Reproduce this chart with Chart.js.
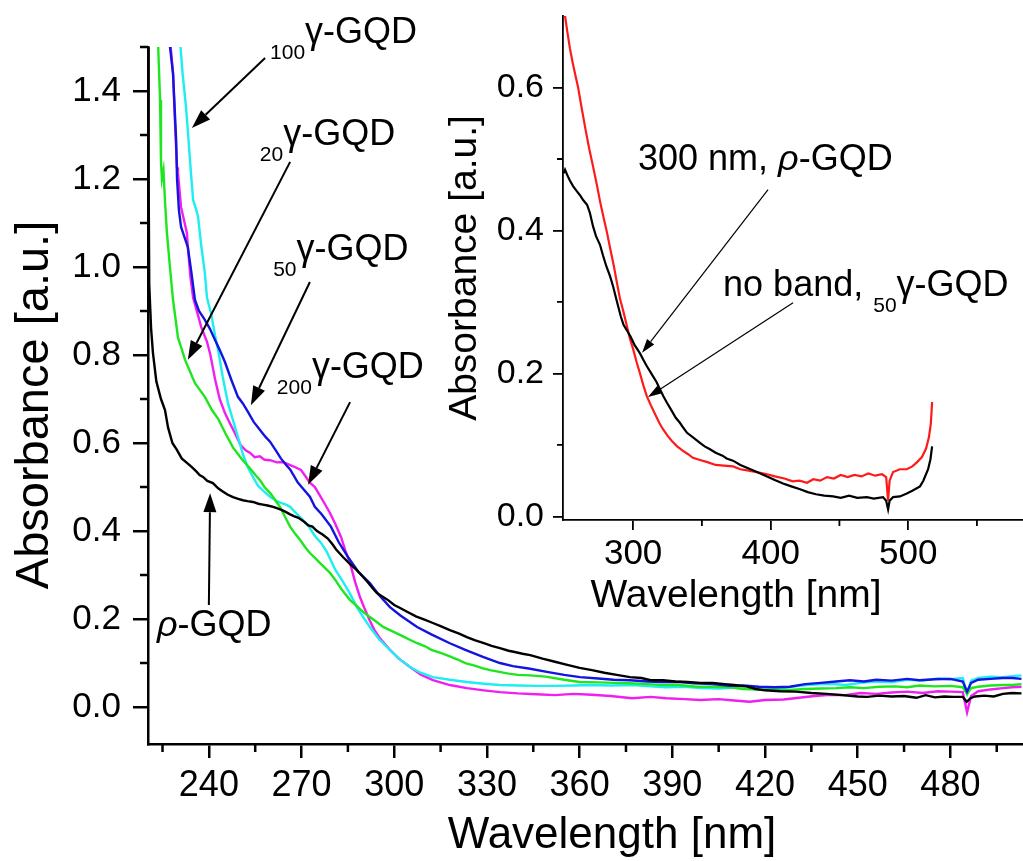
<!DOCTYPE html>
<html>
<head>
<meta charset="utf-8">
<script src="https://cdn.jsdelivr.net/npm/chart.js@4.4.1/dist/chart.umd.min.js"></script>
<style>
  html, body { margin: 0; padding: 0; background: #fff; overflow: hidden; }
  #wrap { position: relative; width: 1023px; height: 861px; }
  #wrap canvas { position: absolute; left: 0; top: 0; }
</style>
</head>
<body>
<div id="wrap">
  <canvas id="main" width="1023" height="861"></canvas>
  <canvas id="inset" width="1023" height="861"></canvas>
</div>
<script>
// UV-vis absorbance spectra, [wavelength nm, absorbance a.u.]
const pGQD = [[220.3,1.52],[220.5,1.2],[220.7,0.96],[221.3,0.86],[221.9,0.805],[223,0.74],[224.5,0.70],[225.8,0.675],[226.8,0.635],[228.2,0.60],[229.7,0.584],[231.2,0.565],[232.9,0.555],[234.5,0.545],[236,0.535],[237,0.527],[238.1,0.523],[239.5,0.514],[241.3,0.509],[243,0.497],[244.5,0.49],[246,0.483],[247.8,0.477],[249.5,0.473],[251,0.47],[252.5,0.468],[254.3,0.466],[256,0.462],[257.5,0.46],[259,0.458],[260.8,0.455],[262,0.452],[263.5,0.448],[265,0.443],[266.3,0.438],[267.5,0.434],[269,0.43],[270.5,0.423],[272.2,0.413],[273.5,0.41],[275,0.40],[276.8,0.392],[278.5,0.383],[280,0.37],[281.2,0.358],[283.4,0.341],[285.7,0.325],[287.9,0.311],[290,0.295],[291.5,0.283],[293,0.27],[294.4,0.259],[296,0.252],[298,0.243],[300,0.232],[301.9,0.225],[304,0.217],[307,0.206],[310,0.198],[312.5,0.191],[315,0.184],[318,0.175],[321,0.167],[323.5,0.159],[326,0.152],[329,0.145],[331.5,0.139],[334.2,0.134],[337,0.128],[339,0.125],[341.5,0.121],[344,0.118],[348,0.11],[352,0.103],[356,0.096],[360,0.089],[364,0.084],[368,0.078],[372,0.073],[376.3,0.068],[380,0.066],[383,0.061],[387,0.061],[391,0.058],[395,0.057],[399,0.055],[403,0.055],[407,0.052],[410,0.05],[414,0.047],[417,0.041],[420,0.038],[425,0.036],[430,0.035],[435,0.032],[440,0.03],[445,0.027],[450,0.024],[453,0.023],[457,0.026],[461,0.024],[465,0.025],[469,0.021],[472,0.027],[475,0.022],[478,0.024],[481,0.023],[484,0.023],[485.3,0.012],[486.5,0.02],[488,0.024],[491,0.026],[494,0.024],[497,0.03],[500,0.032],[503,0.031]];

const gGQD20 = [[223.5,1.52],[224.2,1.38],[224.5,1.24],[224.8,1.2],[225.3,1.22],[225.8,1.15],[226.4,1.08],[227.4,1.0],[228.4,0.925],[230,0.84],[232.3,0.789],[235.5,0.736],[238.7,0.705],[241,0.675],[243,0.655],[245.5,0.62],[247.8,0.59],[250.5,0.565],[253,0.545],[255,0.528],[256.5,0.516],[258,0.5],[260,0.485],[261.5,0.47],[263,0.455],[264.8,0.43],[266.3,0.41],[268,0.393],[269.5,0.38],[271,0.365],[272.7,0.35],[274.5,0.338],[276,0.327],[277.5,0.317],[279.2,0.305],[280.8,0.29],[282.4,0.273],[284,0.258],[285.7,0.243],[287.5,0.232],[289,0.222],[290.5,0.213],[292,0.205],[294,0.195],[296.4,0.182],[298.6,0.175],[301,0.167],[303,0.16],[305,0.153],[307.4,0.145],[310,0.138],[312,0.13],[315,0.123],[318,0.115],[320.5,0.108],[323,0.1],[326,0.094],[328.7,0.088],[331,0.084],[334,0.08],[337,0.076],[340,0.073],[344,0.072],[349,0.069],[355,0.062],[360,0.057],[366,0.056],[371,0.055],[376,0.054],[382,0.052],[387,0.05],[392,0.05],[398,0.046],[403,0.046],[408.6,0.045],[413,0.041],[418,0.04],[423,0.039],[428,0.039],[433,0.041],[438,0.042],[443,0.043],[447.5,0.045],[452,0.043],[457,0.046],[462,0.047],[466,0.045],[470,0.049],[475,0.047],[480,0.048],[484,0.045],[485.4,0.03],[486.7,0.043],[489,0.046],[493,0.049],[497,0.05],[500,0.05],[503,0.052]];

const gGQD50 = [[227.1,1.52],[228.4,1.44],[229.4,1.29],[229.7,1.2],[230.3,1.13],[231,1.091],[232,1.07],[233.2,1.045],[234.3,0.99],[235.5,0.925],[236.8,0.9],[238.7,0.88],[240.3,0.86],[242,0.834],[243.6,0.81],[245.2,0.784],[247.2,0.745],[249.4,0.705],[251,0.69],[252.7,0.67],[254.5,0.648],[256.3,0.632],[258.2,0.615],[259.8,0.603],[261.5,0.585],[263.3,0.565],[265,0.55],[266.3,0.54],[268.8,0.51],[270.5,0.496],[272.7,0.478],[274.3,0.455],[276.5,0.438],[279.5,0.41],[282,0.375],[285.3,0.338],[288.3,0.308],[292.1,0.282],[295,0.255],[298.6,0.227],[302,0.208],[307.4,0.182],[312,0.165],[318,0.145],[323,0.13],[328.7,0.114],[334.2,0.1],[338.4,0.093],[344,0.087],[349.4,0.080],[355,0.073],[360.1,0.068],[366,0.065],[371,0.062],[376.3,0.061],[382,0.058],[387,0.057],[392.5,0.057],[397,0.054],[403,0.052],[408.6,0.048],[413,0.049],[418,0.046],[423,0.045],[428,0.046],[433,0.052],[438,0.055],[443,0.058],[447.5,0.061],[452,0.058],[456,0.062],[461,0.06],[466,0.064],[470,0.061],[475,0.063],[480,0.064],[484,0.058],[485.4,0.035],[486.7,0.055],[489,0.062],[493,0.064],[497,0.066],[500,0.066],[503,0.064]];

const gGQD100 = [[230.6,1.52],[231.5,1.44],[232.6,1.364],[233.4,1.29],[234.2,1.214],[234.9,1.152],[235.7,1.135],[236.5,1.115],[237.5,1.05],[238.7,0.986],[239.4,0.93],[240.7,0.895],[242,0.845],[243,0.811],[244.5,0.75],[246.2,0.69],[247.8,0.652],[249.4,0.614],[251,0.575],[252.7,0.543],[254.5,0.52],[255.9,0.503],[257.8,0.49],[259.8,0.478],[261.5,0.47],[263.3,0.464],[265,0.46],[266.3,0.455],[267.9,0.443],[270,0.428],[272.1,0.413],[274.2,0.39],[276.3,0.373],[278,0.355],[279.5,0.333],[281,0.311],[283.4,0.285],[285.5,0.26],[287.9,0.227],[290,0.204],[292.1,0.182],[295,0.155],[298.6,0.13],[301.5,0.11],[305.1,0.091],[308.5,0.078],[312.5,0.068],[318,0.062],[323.5,0.057],[329,0.053],[334.2,0.05],[340,0.049],[346,0.048],[352,0.048],[358,0.049],[364,0.05],[370,0.049],[377,0.05],[383,0.047],[388,0.045],[394,0.046],[399,0.043],[405,0.042],[410,0.044],[415,0.041],[420,0.045],[426,0.043],[431,0.048],[436,0.051],[441,0.053],[446,0.05],[451,0.055],[456,0.058],[461,0.056],[466,0.062],[471,0.06],[476,0.065],[480,0.063],[484,0.066],[485.4,0.03],[486.7,0.06],[489,0.066],[493,0.069],[497,0.068],[500,0.07],[503,0.072]];

const gGQD200 = [[227.4,1.52],[228.4,1.44],[229.2,1.3],[229.7,1.227],[230,1.214],[231,1.136],[232.9,1.077],[233.2,1.045],[234,0.98],[234.9,0.93],[235.5,0.915],[236.5,0.89],[237.5,0.864],[239.4,0.83],[240.5,0.8],[242,0.745],[243.5,0.7],[245.2,0.668],[246.8,0.645],[248.4,0.623],[250.3,0.595],[252,0.583],[253.3,0.578],[254.8,0.568],[256.5,0.57],[258,0.562],[259.8,0.561],[262,0.556],[264,0.557],[266.3,0.55],[268,0.545],[269.8,0.539],[271.2,0.525],[272.7,0.51],[274.3,0.5],[276,0.48],[277.5,0.462],[279.2,0.441],[281,0.415],[282.8,0.386],[284.2,0.355],[285.7,0.327],[287.3,0.285],[288.9,0.25],[290.5,0.222],[292,0.198],[293.5,0.176],[295.5,0.155],[298.6,0.13],[301.5,0.11],[305.1,0.091],[308.5,0.074],[312.5,0.061],[318,0.05],[323.5,0.043],[329,0.038],[334.2,0.034],[340,0.031],[346,0.029],[352,0.027],[358,0.03],[364,0.028],[370,0.025],[377,0.02],[383,0.023],[388,0.02],[394,0.018],[399,0.016],[405,0.018],[410,0.015],[415,0.012],[420,0.016],[426,0.017],[431,0.021],[436,0.025],[441,0.028],[446,0.027],[451,0.032],[456,0.03],[461,0.033],[466,0.035],[471,0.032],[476,0.036],[480,0.035],[484,0.034],[485.4,-0.012],[486.7,0.025],[489,0.036],[493,0.04],[497,0.043],[500,0.045],[503,0.046]];

// inset: p-GQD against 50γ-GQD over a wider range
const insetP = [[249.5,0.48],[250.5,0.485],[252,0.478],[254,0.47],[256.3,0.462],[259,0.455],[261.5,0.449],[263.5,0.443],[266.5,0.436],[268.5,0.425],[270.8,0.406],[273,0.392],[275.9,0.38],[278.1,0.365],[280.5,0.35],[283.2,0.336],[285.4,0.322],[288.3,0.30],[291,0.28],[293,0.268],[295.5,0.26],[298,0.252],[301,0.24],[305,0.228],[307.2,0.22],[310,0.21],[314.5,0.196],[317,0.188],[319.5,0.178],[322,0.168],[324.6,0.159],[328,0.148],[331,0.138],[334,0.131],[336.5,0.124],[339.2,0.117],[344,0.11],[348.6,0.103],[352,0.098],[355.9,0.094],[360,0.089],[365,0.085],[368,0.081],[372.6,0.078],[378,0.072],[384,0.067],[390,0.062],[397.4,0.056],[403,0.051],[409,0.046],[415,0.042],[421.4,0.038],[427,0.034],[433,0.031],[439,0.029],[445.4,0.028],[451,0.026],[457,0.029],[463,0.026],[470,0.027],[475,0.025],[481.7,0.027],[484,0.022],[485.4,0.01],[486.5,0.022],[489,0.027],[494,0.028],[499,0.032],[503,0.036],[508.6,0.042],[511,0.05],[514.5,0.066],[516.2,0.08],[517.4,0.098]];

const insetG50 = [[249,0.72],[250.5,0.70],[252,0.68],[254,0.655],[256,0.635],[258,0.617],[260,0.60],[262.5,0.572],[265.5,0.54],[268,0.515],[270.8,0.49],[273.5,0.465],[276,0.44],[278.5,0.418],[281,0.397],[283.5,0.373],[286,0.35],[288.3,0.326],[290.5,0.304],[293,0.286],[295,0.27],[297.5,0.25],[300,0.234],[302.5,0.216],[305,0.2],[307.5,0.183],[310,0.168],[313,0.155],[316,0.143],[319,0.131],[321.7,0.122],[325,0.113],[328,0.106],[332,0.098],[336,0.092],[340,0.087],[343.5,0.082],[348.6,0.079],[354,0.076],[360,0.072],[366,0.071],[372.6,0.07],[378,0.066],[384,0.064],[390,0.062],[397.4,0.059],[403,0.056],[410,0.053],[416,0.049],[421,0.05],[426.5,0.047],[431,0.052],[436,0.05],[441,0.055],[446,0.053],[451,0.058],[456,0.055],[461,0.058],[466,0.056],[471,0.06],[476,0.057],[481,0.059],[484,0.055],[485.4,0.022],[486.5,0.05],[489,0.062],[494,0.066],[499,0.066],[503,0.07],[506.5,0.076],[510,0.083],[513,0.095],[515,0.11],[516.5,0.13],[517.4,0.16]];

const mainXTicks = [240, 270, 300, 330, 360, 390, 420, 450, 480];
const mainXMinor = [225, 255, 285, 315, 345, 375, 405, 435, 465, 495];
const mainYTicks = [0, 0.2, 0.4, 0.6, 0.8, 1.0, 1.2, 1.4];
const mainYMinor = [0.1, 0.3, 0.5, 0.7, 0.9, 1.1, 1.3, 1.5];
const insetXTicks = [300, 400, 500];
const insetXMinor = [350, 450, 550];
const insetYTicks = [0, 0.2, 0.4, 0.6];
const insetYMinor = [0.1, 0.3, 0.5];

const FONT = "'Liberation Sans', Arial, Helvetica, sans-serif";

// callouts: text anchor (left, baseline) and arrow tail/head, all in data units
const mainNotes = [
  { parts: [{ t: '100', sub: true }, { t: 'γ-GQD' }], at: [259.8, 1.509], tail: [258.2, 1.475], head: [234.5, 1.316] },
  { parts: [{ t: '20', sub: true }, { t: 'γ-GQD' }], at: [256.5, 1.277], tail: [266.3, 1.239], head: [233.2, 0.789] },
  { parts: [{ t: '50', sub: true }, { t: 'γ-GQD' }], at: [260.8, 1.016], tail: [272.7, 0.966], head: [253.6, 0.686] },
  { parts: [{ t: '200', sub: true }, { t: 'γ-GQD' }], at: [262.0, 0.748], tail: [285.7, 0.693], head: [272.1, 0.505] },
  { parts: [{ t: 'ρ', italic: true }, { t: '-GQD' }], at: [223.2, 0.161], tail: [240.0, 0.232], head: [240.4, 0.486] }
];
const insetNotes = [
  { parts: [{ t: '300 nm, ' }, { t: 'ρ', italic: true }, { t: '-GQD' }], at: [303.5, 0.484], tail: [398.1, 0.457], head: [306.5, 0.229] },
  { parts: [{ t: 'no band, ' }, { t: '50', sub: true }, { t: 'γ-GQD' }], at: [365.4, 0.308], tail: [416.3, 0.299], head: [310.8, 0.167] }
];

function drawArrow(ctx, x0, y0, x1, y1, style) {
  const a = Math.atan2(y1 - y0, x1 - x0);
  const bx = x1 - Math.cos(a) * style.headLen;
  const by = y1 - Math.sin(a) * style.headLen;
  ctx.lineWidth = style.width;
  ctx.beginPath();
  ctx.moveTo(x0, y0);
  ctx.lineTo(bx, by);
  ctx.stroke();
  ctx.beginPath();
  ctx.moveTo(x1, y1);
  ctx.lineTo(bx - Math.sin(a) * style.headHalf, by + Math.cos(a) * style.headHalf);
  ctx.lineTo(bx + Math.sin(a) * style.headHalf, by - Math.cos(a) * style.headHalf);
  ctx.closePath();
  ctx.fill();
}

function drawParts(ctx, parts, x, y, size) {
  const subSize = Math.round(size * 0.58);
  ctx.textAlign = 'left';
  ctx.textBaseline = 'alphabetic';
  for (const p of parts) {
    const fs = p.sub ? subSize : size;
    ctx.font = `${p.italic ? 'italic ' : ''}${fs}px ${FONT}`;
    ctx.fillText(p.t, x, p.sub ? y + size * 0.45 : y);
    x += ctx.measureText(p.t).width;
  }
}

// minor ticks, axis titles and callouts, drawn on top of each chart
function decorations(cfg) {
  return {
    id: 'decorations',
    afterDraw(chart) {
      const { ctx } = chart;
      const { x, y } = chart.scales;
      ctx.save();
      ctx.strokeStyle = '#000';
      ctx.fillStyle = '#000';
      ctx.lineWidth = cfg.axisWidth;
      ctx.beginPath();
      for (const v of cfg.minorX) {
        const px = x.getPixelForValue(v);
        if (px < x.left || px > x.right) continue;
        ctx.moveTo(px, x.top);
        ctx.lineTo(px, x.top + cfg.minorLen);
      }
      for (const v of cfg.minorY) {
        const py = y.getPixelForValue(v);
        ctx.moveTo(y.right, py);
        ctx.lineTo(y.right - cfg.minorLen, py);
      }
      ctx.stroke();

      // axis titles
      ctx.font = `${cfg.titleSize}px ${FONT}`;
      ctx.textAlign = 'center';
      ctx.textBaseline = 'alphabetic';
      ctx.fillText('Wavelength [nm]', cfg.xTitle[0], cfg.xTitle[1]);
      ctx.save();
      ctx.font = `${cfg.yTitleSize}px ${FONT}`;
      ctx.translate(cfg.yTitle[0], cfg.yTitle[1]);
      ctx.rotate(-Math.PI / 2);
      ctx.fillText('Absorbance [a.u.]', 0, 0);
      ctx.restore();

      for (const n of cfg.notes) {
        drawArrow(ctx,
          x.getPixelForValue(n.tail[0]), y.getPixelForValue(n.tail[1]),
          x.getPixelForValue(n.head[0]), y.getPixelForValue(n.head[1]),
          cfg.arrow);
        drawParts(ctx, n.parts, x.getPixelForValue(n.at[0]), y.getPixelForValue(n.at[1]), cfg.noteSize);
      }
      ctx.restore();
    }
  };
}

function series(data, color, width) {
  return { data, borderColor: color, borderWidth: width, pointRadius: 0, tension: 0, fill: false };
}

function axis(o) {
  return {
    type: 'linear',
    position: o.position,
    min: o.min,
    max: o.max,
    afterBuildTicks: s => { s.ticks = o.ticks.map(value => ({ value })); },
    afterFit: s => {
      // fixed plot box: no extra room for label overhang
      o.fit(s);
      s.paddingTop = s.paddingBottom = s.paddingLeft = s.paddingRight = 0;
    },
    border: { display: true, color: '#000', width: o.width },
    grid: { display: true, drawOnChartArea: false, drawTicks: true, tickLength: o.tickLen, color: '#000', lineWidth: o.width },
    ticks: {
      autoSkip: false,
      maxRotation: 0,
      padding: o.padding,
      color: '#000',
      font: { family: FONT, size: o.fontSize },
      callback: o.label
    }
  };
}

Chart.defaults.animation = false;

new Chart(document.getElementById('main'), {
  type: 'line',
  data: {
    datasets: [
      series(pGQD, '#000000', 2.4),
      series(gGQD50, '#1414e0', 2.4),
      series(gGQD20, '#1ee61e', 2.4),
      series(gGQD100, '#1eeef2', 2.4),
      series(gGQD200, '#f01ef0', 2.4)
    ]
  },
  options: {
    responsive: false,
    devicePixelRatio: 1,
    layout: { padding: { top: 47, left: 0, right: 0, bottom: 0 } },
    plugins: { legend: { display: false }, tooltip: { enabled: false } },
    scales: {
      x: axis({ position: 'bottom', min: 220.3, max: 503.5, ticks: mainXTicks, width: 2.5, tickLen: 14, padding: 6, fontSize: 36,
        fit: s => { s.height = 117; }, label: v => String(v) }),
      y: axis({ position: 'left', min: -0.084, max: 1.5, ticks: mainYTicks, width: 2.5, tickLen: 15, padding: 12, fontSize: 35,
        fit: s => { s.width = 148; }, label: v => v.toFixed(1) })
    }
  },
  plugins: [decorations({
    minorX: mainXMinor, minorY: mainYMinor, minorLen: 8, axisWidth: 2.5,
    titleSize: 44, yTitleSize: 47, xTitle: [612, 848], yTitle: [48, 405],
    notes: mainNotes, noteSize: 36,
    arrow: { width: 2, headLen: 19, headHalf: 6.5 }
  })]
});

new Chart(document.getElementById('inset'), {
  type: 'line',
  data: {
    datasets: [
      series(insetP, '#000000', 2.2),
      series(insetG50, '#ff1a1a', 2.2)
    ]
  },
  options: {
    responsive: false,
    devicePixelRatio: 1,
    layout: { padding: { top: 16, left: 0, right: 0, bottom: 0 } },
    plugins: { legend: { display: false }, tooltip: { enabled: false } },
    scales: {
      x: axis({ position: 'bottom', min: 249, max: 583.5, ticks: insetXTicks, width: 1.8, tickLen: 10, padding: 3, fontSize: 35,
        fit: s => { s.height = 341; }, label: v => String(v) }),
      y: axis({ position: 'left', min: -0.005, max: 0.7, ticks: insetYTicks, width: 1.8, tickLen: 10, padding: 9, fontSize: 34,
        fit: s => { s.width = 563; }, label: v => v.toFixed(1) })
    }
  },
  plugins: [decorations({
    minorX: insetXMinor, minorY: insetYMinor, minorLen: 6, axisWidth: 1.8,
    titleSize: 39, yTitleSize: 39, xTitle: [736, 607], yTitle: [476, 268],
    notes: insetNotes, noteSize: 36,
    arrow: { width: 1.2, headLen: 14, headHalf: 4.5 }
  })]
});
</script>
</body>
</html>
